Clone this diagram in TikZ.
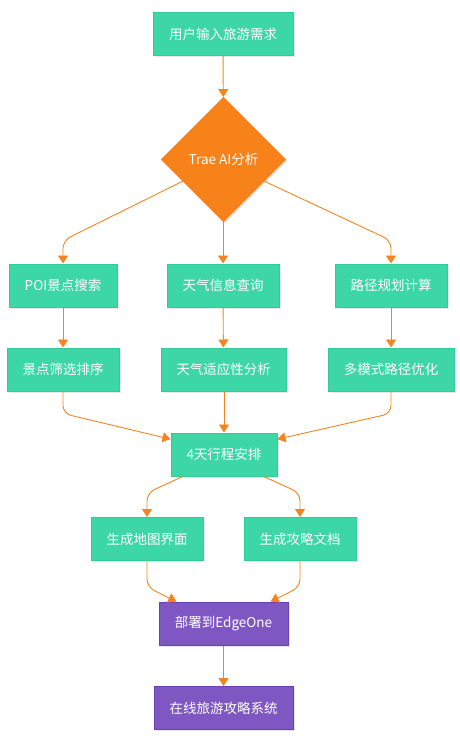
\documentclass[tikz,border=0pt]{standalone}
\usepackage{fontspec}
\setmainfont{Noto Sans CJK SC}
\usetikzlibrary{shapes.geometric,arrows.meta,shadows}
\definecolor{gfill}{HTML}{3DD6A6}
\definecolor{gline}{HTML}{34C998}
\definecolor{ofill}{HTML}{F7821A}
\definecolor{oline}{HTML}{F5841F}
\definecolor{pfill}{HTML}{7E57C2}
\definecolor{pline}{HTML}{6A40B8}
\begin{document}
\begin{tikzpicture}[x=1pt,y=-1pt,
  base/.style={font=\fontsize{13.5}{16}\selectfont, text=white, inner sep=0pt,
    drop shadow={opacity=0.18, shadow xshift=1.5pt, shadow yshift=-1.5pt}},
  gbox/.style={base, rectangle, fill=gfill, draw=gline, line width=1pt, minimum height=43pt},
  pbox/.style={base, rectangle, fill=pfill, draw=pline, line width=1pt, minimum height=43pt},
  dbox/.style={base, diamond, fill=ofill, draw=ofill, minimum width=125pt, minimum height=125pt},
  conn/.style={draw=oline, line width=0.9pt, rounded corners=8pt, -{Triangle[width=10pt,length=8pt]}}
]
\useasboundingbox (0,0) rectangle (460,744);

\node[gbox, minimum width=140pt] (top) at (223,34) {用户输入旅游需求};
\node[dbox] (dia) at (223.5,159.5) {Trae AI分析};

\node[gbox, minimum width=108pt] (poi) at (63,285.5) {POI景点搜索};
\node[gbox, minimum width=112pt] (wq) at (223,285.5) {天气信息查询};
\node[gbox, minimum width=112pt] (rp) at (391,285.5) {路径规划计算};

\node[gbox, minimum width=112pt] (sort) at (63,369.5) {景点筛选排序};
\node[gbox, minimum width=125pt] (wa) at (223.5,369.5) {天气适应性分析};
\node[gbox, minimum width=126pt] (mo) at (391,369.5) {多模式路径优化};

\node[gbox, minimum width=106pt] (sched) at (224,454.5) {4天行程安排};

\node[gbox, minimum width=112pt] (map) at (147,539) {生成地图界面};
\node[gbox, minimum width=112pt] (doc) at (300,539) {生成攻略文档};

\node[pbox, minimum width=129pt] (deploy) at (223.5,623.5) {部署到EdgeOne};
\node[pbox, minimum width=139pt] (sys) at (223.5,708) {在线旅游攻略系统};

\draw[conn] (top) -- (dia);
\draw[conn] (dia.208) -- ([yshift=23pt]poi.north) -- (poi.north);
\draw[conn] (dia.south -| wq.north) -- (wq.north);
\draw[conn] (dia.332) -- ([yshift=23pt]rp.north) -- (rp.north);

\draw[conn] (poi) -- (sort);
\draw[conn] (wq) -- (wa);
\draw[conn] (rp) -- (mo);

\draw[conn] (sort.south) -- ([yshift=-22pt]sort.south) -- (sched.164);
\draw[conn] (wa.south -| sched.north) -- (sched.north);
\draw[conn] (mo.south) -- ([yshift=-22pt]mo.south) -- (sched.16);

\draw[conn] (sched.208) -- ([yshift=24pt]map.north) -- (map.north);
\draw[conn] (sched.331) -- ([yshift=24pt]doc.north) -- (doc.north);

\draw[conn] (map.south) -- ([yshift=-26pt]map.south) -- (deploy.155);
\draw[conn] (doc.south) -- ([yshift=-26pt]doc.south) -- (deploy.25);

\draw[conn] (deploy) -- (sys);
\end{tikzpicture}
\end{document}
